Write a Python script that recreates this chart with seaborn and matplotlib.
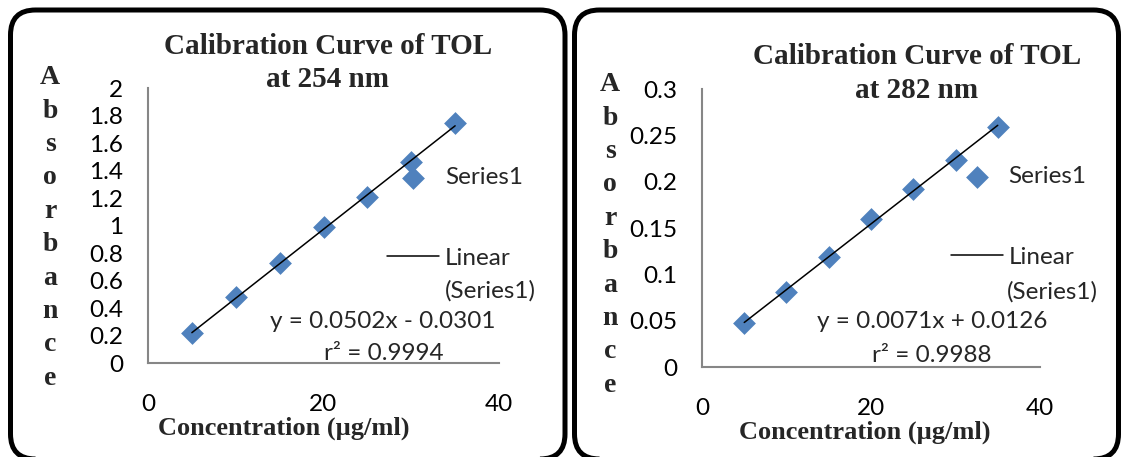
import numpy as np
import pandas as pd
import matplotlib
matplotlib.use("Agg")
import matplotlib.pyplot as plt
from matplotlib.patches import FancyBboxPatch
from matplotlib.ticker import FuncFormatter
import seaborn as sns

# data
conc = [5, 10, 15, 20, 25, 30, 35]
abs_254 = [0.216, 0.483, 0.730, 0.992, 1.206, 1.466, 1.745]
abs_282 = [0.048, 0.081, 0.119, 0.160, 0.192, 0.224, 0.259]

# trendline coefficients as printed on the charts: slope, intercept, r2
fit_254 = [0.0502, -0.0301, 0.9994]
fit_282 = [0.0071, 0.0126, 0.9988]

titles = ["Calibration Curve of TOL\nat 254 nm", "Calibration Curve of TOL\nat 282 nm"]
y_ticks_254 = [0, 0.2, 0.4, 0.6, 0.8, 1, 1.2, 1.4, 1.6, 1.8, 2]
y_ticks_282 = [0, 0.05, 0.1, 0.15, 0.2, 0.25, 0.3]
x_ticks = [0, 20, 40]

sns.set_style("white")
plt.rcParams['font.family'] = ['Lato', 'DejaVu Sans']

W, H = 1122, 457
fig = plt.figure(figsize=(W / 100, H / 100), dpi=100)

def fx(x):
    return x / W

def fy(y):
    return 1 - y / H

serif = ['Liberation Serif', 'DejaVu Serif']
blue = '#4F81BD'
grey = '#868686'
fs = 17.5

# rounded frames around each panel
for x0, x1 in [(10.5, 565), (574.5, 1118.5)]:
    box = FancyBboxPatch((x0 / 100, (H - 459) / 100), (x1 - x0) / 100, (459 - 10) / 100,
                         boxstyle="round,pad=0,rounding_size=0.25",
                         transform=fig.dpi_scale_trans, fill=False,
                         edgecolor='black', linewidth=3.6)
    fig.patches.append(box)

panels = [
    dict(rect=[148, 363, 351, 88.3], y=abs_254, fit=fit_254, yt=y_ticks_254,
         title=titles[0], tpos=(327.7, 63), ylab=(50, 228), xlab=(283.6, 428),
         eq=(383, 322), r2=(384, 353), leg=(387, 178), leg2=(445, 291)),
    dict(rect=[702, 367, 338, 89.3], y=abs_282, fit=fit_282, yt=y_ticks_282,
         title=titles[1], tpos=(917, 73.5), ylab=(610, 235), xlab=(865, 432),
         eq=(932, 322), r2=(932, 355), leg=(950.6, 177), leg2=(1007, 292)),
]

for p in panels:
    left, bottom, width, top = p['rect']
    ax = fig.add_axes([fx(left), fy(bottom), width / W, (bottom - top) / H])
    df = pd.DataFrame({'conc': conc, 'absorbance': p['y']})
    slope, icpt, r2 = p['fit']
    line = pd.DataFrame({'conc': [conc[0], conc[-1]]})
    line['absorbance'] = slope * line['conc'] + icpt

    sns.scatterplot(data=df, x='conc', y='absorbance', marker='D', s=135,
                    color=blue, edgecolor=blue, linewidth=0, ax=ax, label='Series1',
                    zorder=3)
    sns.lineplot(data=line, x='conc', y='absorbance', color='black', linewidth=1.1,
                 ax=ax, label='Linear', zorder=4)

    ax.set_xlim(0, 40)
    ax.set_ylim(p['yt'][0], p['yt'][-1])
    ax.set_xticks(x_ticks)
    ax.set_yticks(p['yt'])
    ax.yaxis.set_major_formatter(FuncFormatter(lambda v, pos: f"{v:g}"))
    ax.set_xlabel('')
    ax.set_ylabel('')
    for s in ['top', 'right']:
        ax.spines[s].set_visible(False)
    for s in ['left', 'bottom']:
        ax.spines[s].set_color(grey)
        ax.spines[s].set_linewidth(1.5)
    ax.tick_params(axis='both', direction='out', length=5.5, width=1.5, color=grey,
                   labelsize=fs, labelcolor='black')
    ax.tick_params(axis='y', pad=12.5)
    ax.tick_params(axis='x', pad=17)
    ax.patch.set_alpha(0)

    # legend: first entry centred on the anchor, second entry 80 px lower
    handles, labels = ax.get_legend_handles_labels()
    ax.legend(handles, labels, loc='center left', frameon=False, fontsize=fs,
              bbox_to_anchor=(fx(p['leg'][0]), fy(p['leg'][1] + 40)),
              bbox_transform=fig.transFigure, borderpad=0, borderaxespad=0,
              handlelength=2.14, handletextpad=0.25, labelspacing=2.46)
    fig.text(fx(p['leg2'][0]), fy(p['leg2'][1]), '(Series1)', ha='left', va='center',
             fontsize=fs)

    fig.text(fx(p['tpos'][0]), fy(p['tpos'][1]), p['title'], ha='center', va='center',
             family=serif, fontweight='bold', fontsize=21, linespacing=1.3)
    fig.text(fx(p['xlab'][0]), fy(p['xlab'][1]), 'Concentration (µg/ml)', ha='center',
             va='center', family=serif, fontweight='bold', fontsize=19)
    fig.text(fx(p['ylab'][0]), fy(p['ylab'][1]), '\n'.join('Absorbance'), ha='center',
             va='center', family=serif, fontweight='bold', fontsize=20, linespacing=1.44)

    sign = '-' if icpt < 0 else '+'
    fig.text(fx(p['eq'][0]), fy(p['eq'][1]), f"y = {slope:.4f}x {sign} {abs(icpt):.4f}",
             ha='center', va='center', fontsize=fs)
    fig.text(fx(p['r2'][0]), fy(p['r2'][1]), f"r² = {r2:.4f}", ha='center',
             va='center', fontsize=fs)

fig.savefig('out.png', dpi=100)
